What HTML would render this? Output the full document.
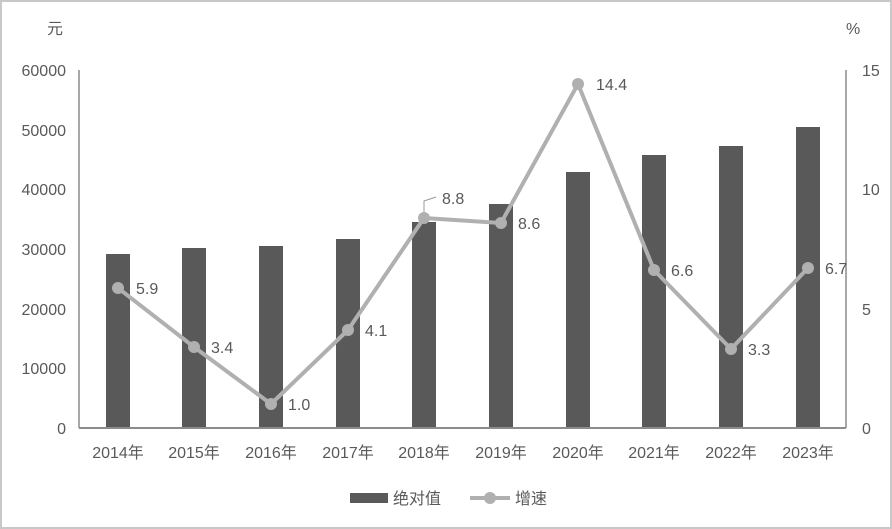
<!DOCTYPE html>
<html><head><meta charset="utf-8"><style>
body{margin:0;background:#fff}
svg{display:block;font-family:"Liberation Sans","Noto Sans CJK SC",sans-serif}
</style></head><body>
<svg width="892" height="529" viewBox="0 0 892 529">
<rect x="1" y="1" width="890" height="527" fill="#fff" stroke="#c8c8c8" stroke-width="2"/>
<g fill="#595959" font-size="16">
<text x="47" y="34">元</text>
<text x="846" y="34">%</text>
<g text-anchor="end">
<text x="66" y="76">60000</text><text x="66" y="136">50000</text><text x="66" y="195">40000</text>
<text x="66" y="255">30000</text><text x="66" y="315">20000</text><text x="66" y="374">10000</text>
<text x="66" y="434">0</text>
</g>
<text x="862" y="76">15</text><text x="862" y="195">10</text><text x="862" y="315">5</text><text x="862" y="434">0</text>
<g text-anchor="middle">
<text x="118" y="458">2014年</text><text x="194" y="458">2015年</text><text x="271" y="458">2016年</text>
<text x="348" y="458">2017年</text><text x="424" y="458">2018年</text><text x="501" y="458">2019年</text>
<text x="578" y="458">2020年</text><text x="654" y="458">2021年</text><text x="731" y="458">2022年</text>
<text x="808" y="458">2023年</text>
</g>
</g>
<g fill="#595959">
<rect x="106" y="254" width="24" height="174"/>
<rect x="182" y="248" width="24" height="180"/>
<rect x="259" y="246" width="24" height="182"/>
<rect x="336" y="239" width="24" height="189"/>
<rect x="412" y="222" width="24" height="206"/>
<rect x="489" y="204" width="24" height="224"/>
<rect x="566" y="172" width="24" height="256"/>
<rect x="642" y="155" width="24" height="273"/>
<rect x="719" y="146" width="24" height="282"/>
<rect x="796" y="127" width="24" height="301"/>
</g>
<line x1="79" y1="70" x2="79" y2="428" stroke="#8c8c8c" stroke-width="1.5"/>
<line x1="846" y1="70" x2="846" y2="428" stroke="#8c8c8c" stroke-width="1.5"/>
<line x1="79" y1="428" x2="846" y2="428" stroke="#8c8c8c" stroke-width="2"/>
<polyline fill="none" stroke="#b0b0b0" stroke-width="4" stroke-linejoin="round" points="118,288 194,347 271,404 348,330 424,218 501,223 578,84 654,270 731,349 808,268"/>
<g fill="#b0b0b0">
<circle cx="118" cy="288" r="6"/><circle cx="194" cy="347" r="6"/><circle cx="271" cy="404" r="6"/>
<circle cx="348" cy="330" r="6"/><circle cx="424" cy="218" r="6"/><circle cx="501" cy="223" r="6"/>
<circle cx="578" cy="84" r="6"/><circle cx="654" cy="270" r="6"/><circle cx="731" cy="349" r="6"/>
<circle cx="808" cy="268" r="6"/>
</g>
<polyline points="424,212 424,201 436,197" fill="none" stroke="#999" stroke-width="1"/>
<g fill="#595959" font-size="16">
<text x="136" y="294">5.9</text><text x="211" y="353">3.4</text><text x="288" y="410">1.0</text>
<text x="365" y="336">4.1</text><text x="442" y="204">8.8</text><text x="518" y="229">8.6</text>
<text x="596" y="90">14.4</text><text x="671" y="276">6.6</text><text x="748" y="355">3.3</text>
<text x="825" y="274">6.7</text>
<rect x="350" y="493" width="38" height="10"/>
<text x="393" y="504">绝对值</text>
<line x1="470" y1="498" x2="510" y2="498" stroke="#b0b0b0" stroke-width="4"/>
<circle cx="490" cy="498" r="6" fill="#b0b0b0"/>
<text x="515" y="504">增速</text>
</g>
</svg>
</body></html>
